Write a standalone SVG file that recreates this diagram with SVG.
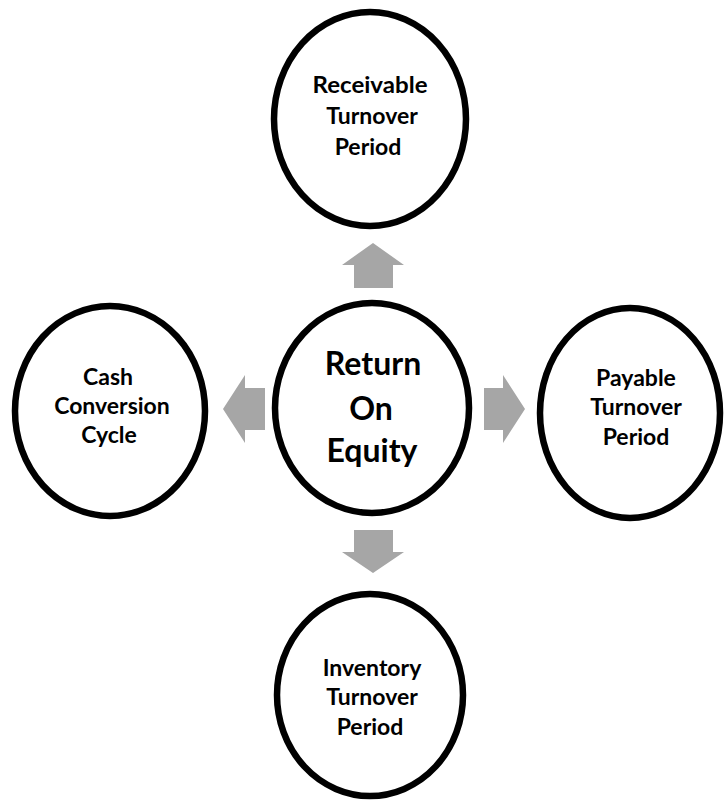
<svg xmlns="http://www.w3.org/2000/svg" width="725" height="800" viewBox="0 0 725 800">
<style>
.c{fill:#fff;stroke:#000;stroke-width:6.5}
.t{font-family:Lato,"Open Sans","Liberation Sans",sans-serif;font-weight:bold;font-size:23px;fill:#000;text-anchor:middle}
.tb{font-size:32px}
.a{fill:#a6a6a6}
</style>
<rect width="725" height="800" fill="#fff"/>
<g id="connectors">
<polygon class="a" points="373,243 404,265 393,265 393,288 354,288 354,265 342,265"/>
<polygon class="a" points="354,530 393,530 393,552 404,552 373,573 342,552 354,552"/>
<polygon class="a" points="223,409 245,375 245,388 265,388 265,430 245,430 245,443"/>
<polygon class="a" points="484,388 503,388 503,375 525,409 503,443 503,430 484,430"/>
</g>
<g id="receivable">
<ellipse class="c" cx="370" cy="119" rx="96" ry="107"/>
<text class="t" x="370" y="93" textLength="115" lengthAdjust="spacingAndGlyphs">Receivable</text>
<text class="t" x="372" y="124">Turnover</text>
<text class="t" x="368" y="155">Period</text>
</g>
<g id="roe">
<ellipse class="c" cx="372" cy="408" rx="97" ry="105"/>
<text class="t tb" x="373" y="375">Return</text>
<text class="t tb" x="371" y="420">On</text>
<text class="t tb" x="372" y="462">Equity</text>
</g>
<g id="ccc">
<ellipse class="c" cx="110" cy="411" rx="95" ry="105"/>
<text class="t" x="108" y="385">Cash</text>
<text class="t" x="112" y="414">Conversion</text>
<text class="t" x="109" y="443">Cycle</text>
</g>
<g id="payable">
<ellipse class="c" cx="630" cy="413" rx="90" ry="105"/>
<text class="t" x="636" y="386">Payable</text>
<text class="t" x="636" y="415">Turnover</text>
<text class="t" x="636" y="445">Period</text>
</g>
<g id="inventory">
<ellipse class="c" cx="370" cy="695" rx="93" ry="101"/>
<text class="t" x="372" y="676">Inventory</text>
<text class="t" x="372" y="705">Turnover</text>
<text class="t" x="370" y="735">Period</text>
</g>
</svg>
